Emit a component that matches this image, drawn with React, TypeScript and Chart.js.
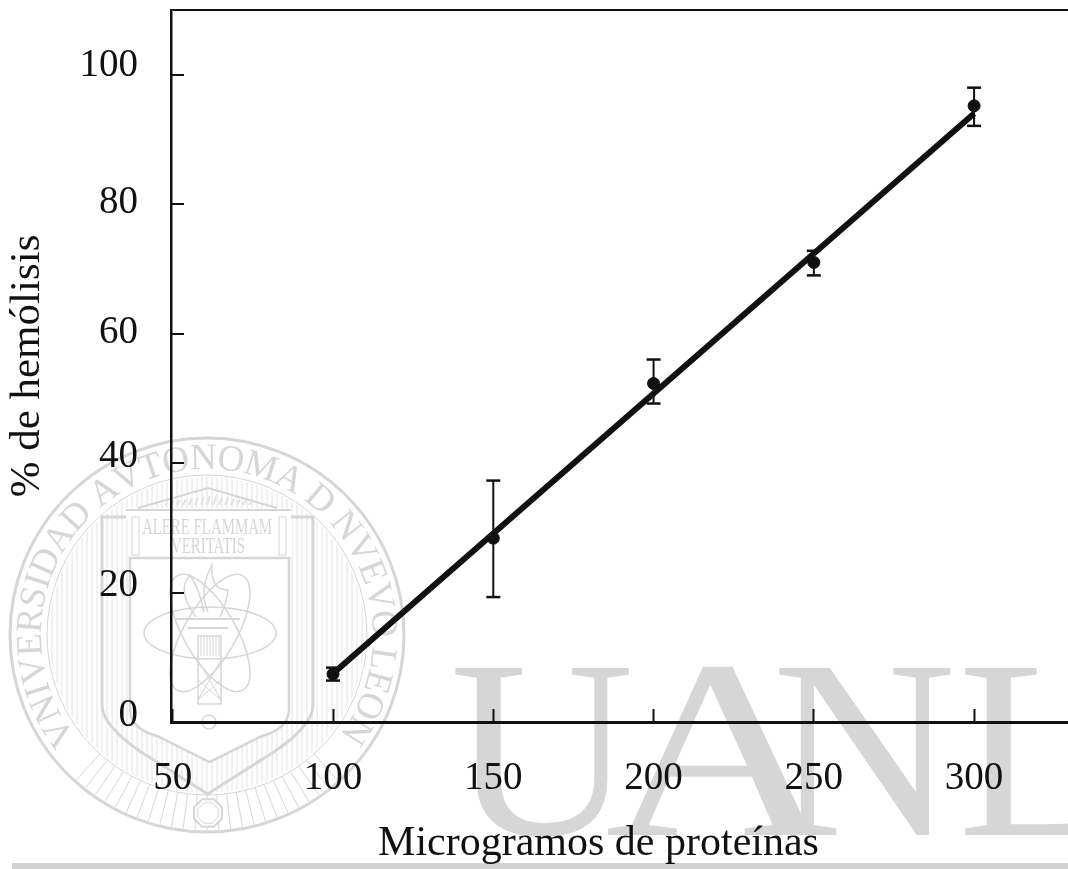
import React, { useEffect, useRef } from "react";
import { Chart, registerables } from "chart.js";

Chart.register(...registerables);

const doses = [100, 150, 200, 250, 300];
const hemolysis = [7.4, 28.4, 52.3, 71, 95.2];
const errorLow = [6.4, 19.3, 49.2, 69, 92.1];
const errorHigh = [8.4, 37.3, 56, 72.8, 98];
const fitDoses = [100, 300];
const fitValues = [7.5, 94];
const xTitle = "Microgramos de proteínas";
const yTitle = "% de hemólisis";
const sealText = "VNIVERSIDAD AVTONOMA D NVEVO LEON";
const mottoOne = "ALERE FLAMMAM";
const mottoTwo = "VERITATIS";
const watermarkLetters = ["U", "A", "N", "L"];

const SERIF = '"Liberation Serif", serif';
const INK = "#111111";
const WM = "#d6d6d6";

function shieldPath(ctx: CanvasRenderingContext2D, l: number, r: number, t: number, side: number, tip: number) {
  const c = (l + r) / 2;
  ctx.moveTo(l, t);
  ctx.lineTo(r, t);
  ctx.lineTo(r, side);
  ctx.quadraticCurveTo(r, side + 20, c + (r - l) * 0.32, side + (tip - side) * 0.52);
  ctx.lineTo(c, tip);
  ctx.lineTo(c - (r - l) * 0.32, side + (tip - side) * 0.52);
  ctx.quadraticCurveTo(l, side + 20, l, side);
  ctx.closePath();
}

function drawSeal(ctx: CanvasRenderingContext2D) {
  const cx = 207;
  const cy = 635;
  ctx.save();
  ctx.strokeStyle = WM;
  ctx.fillStyle = WM;

  ctx.lineWidth = 3;
  ctx.beginPath();
  ctx.arc(cx, cy, 197, 0, Math.PI * 2);
  ctx.stroke();
  ctx.lineWidth = 1;
  ctx.beginPath();
  ctx.arc(cx, cy, 160, 0, Math.PI * 2);
  ctx.stroke();

  // vertical hatching, outside the inner shield
  ctx.save();
  ctx.beginPath();
  ctx.arc(cx, cy, 158, 0, Math.PI * 2);
  ctx.rect(130, 558, 159, 150);
  shieldPath(ctx, 130, 289, 708, 709, 762);
  ctx.clip("evenodd");
  ctx.lineWidth = 1;
  ctx.strokeStyle = "#e2e2e2";
  for (let x = cx - 160; x < cx + 160; x += 5) {
    ctx.beginPath();
    ctx.moveTo(x, 470);
    ctx.lineTo(x, 800);
    ctx.stroke();
  }
  ctx.restore();

  // white behind the temple front
  ctx.fillStyle = "#ffffff";
  ctx.fillRect(128, 510, 164, 47);
  ctx.fillStyle = WM;

  // rays at the foot of the ring
  ctx.lineWidth = 1;
  for (let a = 48; a <= 132; a += 3.5) {
    const rad = (a * Math.PI) / 180;
    ctx.beginPath();
    ctx.moveTo(cx + 160 * Math.cos(rad), cy + 160 * Math.sin(rad));
    ctx.lineTo(cx + 195 * Math.cos(rad), cy + 195 * Math.sin(rad));
    ctx.stroke();
  }
  // octagon
  ctx.fillStyle = "#ffffff";
  for (const [r, w] of [[15, 2], [11, 1]]) {
    ctx.beginPath();
    for (let i = 0; i < 8; i++) {
      const a = ((i + 0.5) * Math.PI) / 4;
      ctx.lineTo(208 + r * Math.cos(a), 813 + r * Math.sin(a));
    }
    ctx.closePath();
    ctx.fill();
    ctx.lineWidth = w;
    ctx.stroke();
  }
  ctx.fillStyle = WM;

  // shields
  ctx.lineWidth = 3;
  ctx.beginPath();
  shieldPath(ctx, 102, 313, 517, 705, 794);
  ctx.stroke();
  ctx.lineWidth = 2.5;
  ctx.beginPath();
  shieldPath(ctx, 130, 289, 558, 709, 762);
  ctx.stroke();

  // pediment
  ctx.fillStyle = "#ffffff";
  ctx.fillRect(126, 508, 165, 12);
  ctx.fillStyle = WM;
  ctx.lineWidth = 2;
  ctx.beginPath();
  ctx.moveTo(126, 510);
  ctx.lineTo(291, 510);
  ctx.moveTo(138, 508);
  ctx.lineTo(208, 488);
  ctx.lineTo(277, 508);
  ctx.stroke();
  ctx.lineWidth = 1;
  ctx.strokeRect(132, 517, 7, 38);
  ctx.strokeRect(279, 517, 7, 38);
  ctx.strokeStyle = "#e2e2e2";
  ctx.lineWidth = 2;
  for (let x = 165; x < 252; x += 6) {
    ctx.beginPath();
    ctx.moveTo(x, 505);
    ctx.lineTo(x + 3, 496 + Math.abs(x - 208) / 8);
    ctx.stroke();
  }
  ctx.strokeStyle = WM;

  // motto
  ctx.textAlign = "center";
  ctx.textBaseline = "middle";
  ctx.save();
  ctx.translate(207, 528);
  ctx.scale(0.62, 1);
  ctx.font = `24px ${SERIF}`;
  ctx.fillText(mottoOne, 0, 0);
  ctx.restore();
  ctx.save();
  ctx.translate(208, 547);
  ctx.scale(0.62, 1);
  ctx.font = `24px ${SERIF}`;
  ctx.fillText(mottoTwo, 0, 0);
  ctx.restore();

  // atom
  ctx.lineWidth = 1.5;
  for (const rot of [0, Math.PI / 3, -Math.PI / 3]) {
    ctx.beginPath();
    ctx.ellipse(210, 633, 66, 26, rot, 0, Math.PI * 2);
    ctx.stroke();
  }

  // torch
  ctx.lineWidth = 1.5;
  ctx.strokeRect(198, 636, 23, 68);
  ctx.lineWidth = 1;
  for (let x = 201; x < 221; x += 3) {
    ctx.beginPath();
    ctx.moveTo(x, 636);
    ctx.lineTo(x, 656);
    ctx.stroke();
  }
  ctx.beginPath();
  ctx.moveTo(198, 660);
  ctx.lineTo(221, 700);
  ctx.moveTo(221, 660);
  ctx.lineTo(198, 700);
  ctx.moveTo(198, 680);
  ctx.lineTo(221, 700);
  ctx.moveTo(221, 680);
  ctx.lineTo(198, 700);
  ctx.stroke();
  ctx.lineWidth = 2;
  ctx.beginPath();
  ctx.moveTo(176, 619);
  ctx.lineTo(240, 619);
  ctx.moveTo(188, 628);
  ctx.lineTo(228, 628);
  ctx.stroke();
  ctx.lineWidth = 1.5;
  ctx.beginPath();
  ctx.moveTo(196, 617);
  ctx.quadraticCurveTo(176, 590, 190, 575);
  ctx.quadraticCurveTo(200, 590, 204, 612);
  ctx.moveTo(208, 612);
  ctx.quadraticCurveTo(198, 590, 212, 565);
  ctx.quadraticCurveTo(210, 590, 228, 590);
  ctx.quadraticCurveTo(226, 605, 220, 617);
  ctx.stroke();
  ctx.beginPath();
  ctx.arc(209, 722, 7, 0, Math.PI * 2);
  ctx.stroke();

  // lettering on the ring
  ctx.font = `37px ${SERIF}`;
  ctx.textBaseline = "alphabetic";
  const chars = sealText.split("");
  const widths = chars.map((c) => ctx.measureText(c).width);
  const total = widths.reduce((a, b) => a + b, 0);
  const baseR = 166;
  const startDeg = -128;
  const endDeg = 127;
  const spanRad = ((endDeg - startDeg) * Math.PI) / 180;
  let run = 0;
  chars.forEach((c, i) => {
    const ang = (startDeg * Math.PI) / 180 + (spanRad * (run + widths[i] / 2)) / total;
    run += widths[i];
    ctx.save();
    ctx.translate(cx + baseR * Math.sin(ang), cy - baseR * Math.cos(ang));
    ctx.rotate(ang);
    ctx.fillText(c, 0, 0);
    ctx.restore();
  });
  ctx.restore();
}

function drawBigLetters(ctx: CanvasRenderingContext2D) {
  ctx.save();
  ctx.fillStyle = WM;
  ctx.textAlign = "left";
  ctx.textBaseline = "alphabetic";
  ctx.font = `255px ${SERIF}`;
  const lefts = [450, 605, 772, 958];
  const stretch = [1, 1.25, 1, 1];
  watermarkLetters.forEach((ch, i) => {
    ctx.save();
    ctx.translate(lefts[i], 835);
    ctx.scale(stretch[i], 1);
    ctx.fillText(ch, 0, 0);
    ctx.restore();
  });
  ctx.fillStyle = "#d2d2d2";
  ctx.fillRect(12, 863, 1056, 6);
  ctx.restore();
}

const watermark = {
  id: "watermark",
  beforeDraw(chart: any) {
    const ctx = chart.ctx;
    ctx.fillStyle = "#ffffff";
    ctx.fillRect(0, 0, chart.width, chart.height);
    drawSeal(ctx);
    drawBigLetters(ctx);
  },
};

const errorSets = doses.map((d, i) => ({
  type: "scatter" as const,
  data: [
    { x: d, y: errorLow[i] },
    { x: d, y: errorHigh[i] },
  ],
  showLine: true,
  borderColor: INK,
  backgroundColor: INK,
  borderWidth: 2,
  pointStyle: "line" as const,
  pointRadius: 7,
  pointBorderWidth: 2.5,
  pointBorderColor: INK,
}));

export default function App() {
  const ref = useRef<HTMLCanvasElement | null>(null);
  useEffect(() => {
    document.body.style.margin = "0";
    const chart = new Chart(ref.current as HTMLCanvasElement, {
      type: "scatter",
      plugins: [watermark],
      data: {
        datasets: [
          {
            data: fitDoses.map((d, i) => ({ x: d, y: fitValues[i] })),
            showLine: true,
            borderColor: INK,
            borderWidth: 6,
            pointRadius: 0,
          },
          ...errorSets,
          {
            data: doses.map((d, i) => ({ x: d, y: hemolysis[i] })),
            pointStyle: "circle",
            pointRadius: 6,
            backgroundColor: INK,
            borderColor: INK,
          },
        ],
      } as any,
      options: {
        animation: false,
        responsive: false,
        layout: { autoPadding: false, padding: { top: 10, left: 0, right: 0, bottom: 0 } },
        plugins: { legend: { display: false }, title: { display: false }, tooltip: { enabled: false } },
        scales: {
          x: {
            type: "linear",
            position: "bottom",
            min: 49.45,
            max: 329.3,
            afterFit: (s: any) => {
              s.height = 147;
              s.paddingLeft = 0;
              s.paddingRight = 0;
            },
            grid: { drawOnChartArea: false, tickLength: -13, tickWidth: 2, tickColor: INK },
            border: { color: INK, width: 3 },
            ticks: {
              stepSize: 50,
              includeBounds: false,
              color: INK,
              maxRotation: 0,
              padding: 46,
              font: { family: SERIF, size: 39 },
            },
            title: {
              display: true,
              text: xTitle + "\u00a0\u00a0\u00a0\u00a0",
              color: INK,
              font: { family: SERIF, size: 42 },
              padding: { top: 0, bottom: 0 },
            },
          },
          y: {
            type: "linear",
            position: "left",
            min: 0,
            max: 110,
            afterFit: (s: any) => {
              s.width = 171;
              s.paddingTop = 0;
              s.paddingBottom = 0;
            },
            grid: {
              drawOnChartArea: true,
              tickLength: -13,
              lineWidth: 2,
              tickWidth: 2,
              color: (c: any) => (c.tick && c.tick.value === 110 ? INK : "rgba(0,0,0,0)"),
              tickColor: (c: any) => (c.tick && c.tick.value === 110 ? "rgba(0,0,0,0)" : INK),
            },
            border: { color: INK, width: 2.5 },
            ticks: {
              stepSize: 20,
              includeBounds: true,
              color: INK,
              padding: 46,
              callback: (v: any) => (v === 110 ? "" : [String(v), ""]),
              font: (c: any) => {
                const v = c.tick ? c.tick.value : 0;
                const lift = v === 100 ? 18 : v === 80 || v === 60 ? 2 : 13;
                return { family: SERIF, size: 39, lineHeight: `${lift}px` };
              },
            },
            title: {
              display: true,
              text: yTitle,
              color: INK,
              font: { family: SERIF, size: 43 },
              padding: { top: 2, bottom: 0 },
            },
          },
        },
      } as any,
    });
    return () => chart.destroy();
  }, []);
  return <canvas ref={ref} width={1068} height={869} style={{ display: "block" }} />;
}
